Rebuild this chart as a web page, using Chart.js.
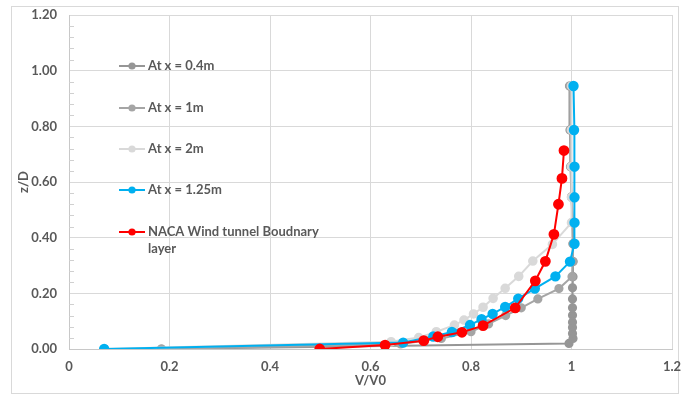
<!DOCTYPE html>
<html>
<head>
<meta charset="utf-8">
<script src="https://cdn.jsdelivr.net/npm/chart.js@4.4.1/dist/chart.umd.min.js"></script>
<style>
  html, body { margin: 0; padding: 0; background: #ffffff; }
  #wrap { width: 681px; height: 394px; position: relative; }
  canvas { display: block; }
</style>
</head>
<body>
<div id="wrap"><canvas id="c" width="681" height="394"></canvas></div>
<script>
// ---- data ----
const seriesNames = ['At x = 0.4m', 'At x = 1m', 'At x = 2m', 'At x = 1.25m', 'NACA Wind tunnel Boudnary layer'];

const v04 = [0.184, 0.995, 1.003, 1.002, 1.002, 1.002, 1.002, 1.002, 1.002, 1.002, 1.003, 1.003, 1.003, 1.002, 1.000, 0.998, 0.997, 0.996];
const z04 = [0.000, 0.020, 0.038, 0.056, 0.077, 0.096, 0.121, 0.148, 0.180, 0.220, 0.260, 0.314, 0.378, 0.454, 0.547, 0.655, 0.787, 0.945];

const v1 = [0.184, 0.660, 0.741, 0.800, 0.835, 0.869, 0.900, 0.933, 0.975, 1.001, 1.003, 1.003, 1.003, 1.000, 0.999, 0.998, 0.997];
const z1 = [0.000, 0.018, 0.038, 0.062, 0.090, 0.120, 0.148, 0.180, 0.217, 0.260, 0.314, 0.378, 0.454, 0.545, 0.655, 0.787, 0.945];

const v2 = [0.070, 0.641, 0.696, 0.731, 0.767, 0.786, 0.805, 0.824, 0.844, 0.868, 0.895, 0.923, 0.962, 1.000, 1.000, 1.000, 1.000, 1.000];
const z2 = [0.000, 0.026, 0.041, 0.062, 0.086, 0.104, 0.126, 0.150, 0.182, 0.218, 0.261, 0.316, 0.376, 0.454, 0.545, 0.655, 0.787, 0.945];

const v125 = [0.070, 0.665, 0.725, 0.762, 0.798, 0.821, 0.843, 0.868, 0.894, 0.927, 0.968, 0.997, 1.006, 1.006, 1.006, 1.006, 1.005, 1.004];
const z125 = [0.000, 0.023, 0.045, 0.061, 0.086, 0.107, 0.126, 0.151, 0.181, 0.217, 0.261, 0.314, 0.378, 0.454, 0.545, 0.655, 0.787, 0.945];

const vNaca = [0.499, 0.629, 0.706, 0.734, 0.782, 0.824, 0.888, 0.928, 0.948, 0.965, 0.974, 0.981, 0.985];
const zNaca = [0.000, 0.014, 0.030, 0.044, 0.060, 0.084, 0.148, 0.245, 0.315, 0.412, 0.520, 0.613, 0.713];

const xTicks = [0, 0.2, 0.4, 0.6, 0.8, 1, 1.2];
const yTicks = [0, 0.2, 0.4, 0.6, 0.8, 1.0, 1.2];

// ---- styling ----
const colors = ['#969696', '#a5a5a5', '#d9d9d9', '#00b0f0', '#ff0000'];
const radii = [3.6, 3.6, 3.8, 4.2, 4.4];
const FONT = 'Lato, "Open Sans", "Liberation Sans", sans-serif';
const TXT = '#595959';

function pts(xs, ys) { return xs.map((x, i) => ({ x: x, y: ys[i] })); }
const allData = [pts(v04, z04), pts(v1, z1), pts(v2, z2), pts(v125, z125), pts(vNaca, zNaca)];

const datasets = allData.map((d, i) => ({
  label: seriesNames[i],
  data: d,
  showLine: true,
  borderColor: colors[i],
  backgroundColor: colors[i],
  pointBackgroundColor: colors[i],
  pointBorderColor: colors[i],
  borderWidth: 2,
  pointRadius: radii[i],
  pointHoverRadius: radii[i],
  tension: 0,
  order: 5 - i
}));

const frame = {
  id: 'frame',
  beforeDraw(chart) {
    const ctx = chart.ctx;
    ctx.save();
    ctx.fillStyle = '#ffffff';
    ctx.fillRect(0, 0, chart.width, chart.height);
    ctx.strokeStyle = '#d9d9d9';
    ctx.lineWidth = 1;
    ctx.strokeRect(11.5, 6.5, 667, 387);
    ctx.restore();
  },
  afterDatasetsDraw(chart) {
    // minor ticks on y axis (inside)
    const ctx = chart.ctx;
    const ys = chart.scales.y;
    const left = chart.chartArea.left;
    ctx.save();
    ctx.strokeStyle = '#d0d0d0';
    ctx.lineWidth = 1;
    for (let k = 0; k <= 30; k++) {
      if (k % 5 === 0) continue;
      const p = Math.round(ys.getPixelForValue(k * 0.04)) + 0.5;
      ctx.beginPath();
      ctx.moveTo(left, p);
      ctx.lineTo(left + 5, p);
      ctx.stroke();
    }
    ctx.restore();
  },
  afterDraw(chart) {
    // legend inside the plot
    const ctx = chart.ctx;
    const rows = [66, 108, 149, 190, 232];
    ctx.save();
    ctx.font = 'bold 13px ' + FONT;
    ctx.textBaseline = 'middle';
    ctx.textAlign = 'left';
    seriesNames.forEach((name, i) => {
      const y = rows[i];
      ctx.strokeStyle = colors[i];
      ctx.lineWidth = 2;
      ctx.beginPath();
      ctx.moveTo(119, y);
      ctx.lineTo(145, y);
      ctx.stroke();
      ctx.fillStyle = colors[i];
      ctx.beginPath();
      ctx.arc(132, y, 3.6, 0, Math.PI * 2);
      ctx.fill();
      ctx.fillStyle = TXT;
      if (i === 4) {
        ctx.fillText('NACA Wind tunnel Boudnary', 148, y);
        ctx.fillText('layer', 148, y + 17);
      } else {
        ctx.fillText(name, 148, y);
      }
    });
    ctx.restore();
  }
};

new Chart(document.getElementById('c'), {
  type: 'scatter',
  data: { datasets: datasets },
  plugins: [frame],
  options: {
    responsive: false,
    animation: false,
    events: [],
    layout: { padding: { left: 0, top: 15, right: 9, bottom: 0 } },
    plugins: { legend: { display: false }, tooltip: { enabled: false } },
    scales: {
      x: {
        type: 'linear',
        min: 0, max: 1.2,
        afterBuildTicks(scale) { scale.ticks = xTicks.map(v => ({ value: v })); },
        ticks: {
          color: TXT,
          font: { family: FONT, size: 13, weight: 'bold' },
          padding: 10,
          callback: v => String(Math.round(v * 10) / 10)
        },
        grid: { color: '#d9d9d9', drawTicks: false },
        border: { color: '#c8c8c8' },
        title: {
          display: true, text: 'V/V0', color: TXT,
          font: { family: FONT, size: 13, weight: 'bold' },
          padding: { top: 0, bottom: 5 }
        },
        afterFit(scale) { scale.height = 45; scale.paddingLeft = 0; scale.paddingRight = 0; }
      },
      y: {
        type: 'linear',
        min: 0, max: 1.2,
        afterBuildTicks(scale) { scale.ticks = yTicks.map(v => ({ value: v })); },
        ticks: {
          color: TXT,
          font: { family: FONT, size: 13, weight: 'bold' },
          padding: 12,
          callback: v => Number(v).toFixed(2)
        },
        grid: { color: '#d9d9d9', drawTicks: false },
        border: { color: '#c8c8c8' },
        title: {
          display: true, text: 'z/D', color: TXT,
          font: { family: FONT, size: 13, weight: 'bold' },
          padding: { top: 16, bottom: 0 }
        },
        afterFit(scale) { scale.width = 69; scale.paddingTop = 0; scale.paddingBottom = 0; }
      }
    }
  }
});
</script>
</body>
</html>
